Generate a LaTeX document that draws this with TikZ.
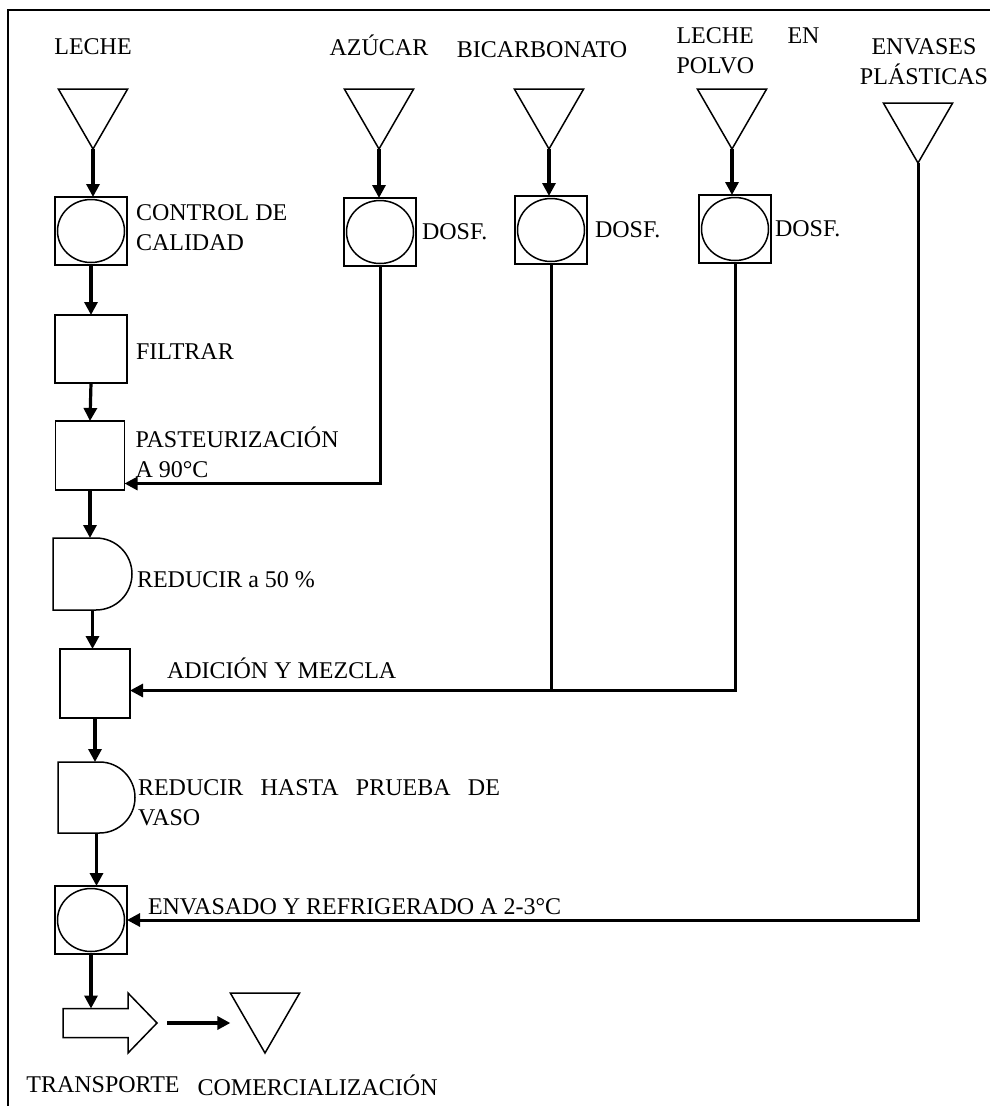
\documentclass[tikz,border=0pt]{standalone}
\usepackage{fontspec}
\setmainfont{Liberation Serif}
\usetikzlibrary{positioning,arrows.meta,shapes.geometric}

\begin{document}
\begin{tikzpicture}[x=1pt, y=1pt,
  lbl/.style={inner sep=0, outer sep=0, font=\fontsize{24}{30}\selectfont},
  tri/.style={draw, line width=1.5, regular polygon, regular polygon sides=3,
              shape border rotate=180, minimum size=80, inner sep=0, outer sep=0},
  opbox/.style={draw, line width=1.5, minimum width=72, minimum height=68,
                inner sep=0, outer sep=0},
  insp/.style={opbox, path picture={\draw[line width=1.5]
               (path picture bounding box.center) ellipse (33.5 and 31.5);}},
  delay/.style={minimum width=79, minimum height=72, inner sep=0, outer sep=0},
  arr/.style={-{Triangle[length=13pt, width=13pt]}, line width=3.2},
  feed/.style={line width=3}]
\useasboundingbox (0,0) rectangle (990,-1106);
\draw[line width=2] (8,-1106) -- (8,-10) -- (990,-10);

% raw materials
\node[tri] (lecheT) at (93,-109) {};
\node[tri] (azT) at (379,-109) {};
\node[tri] (biT) at (549,-109) {};
\node[tri] (poT) at (732,-109) {};
\node[tri] (enT) at (918,-123) {};
\node[lbl, above=34pt of lecheT] {LECHE};
\node[lbl, above=33pt of azT] {AZÚCAR};
\node[lbl, above=31pt of biT, xshift=-7pt] {BICARBONATO};
\node[lbl, above=15pt of poT, xshift=16pt, text width=143pt, align=left] {LECHE\hfill EN\\POLVO};
\node[lbl, above=18pt of enT, xshift=6pt, align=center] {ENVASES\\PLÁSTICAS};

% process
\node[insp] (ctrl) at (91,-231) {};
\node[insp] (azD) at (380,-232) {};
\node[insp] (biD) at (551,-230) {};
\node[insp] (poD) at (735,-229) {};
\node[opbox] (filt) at (91,-349) {};
\node[opbox, minimum width=69, minimum height=69] (past) at (90,-455.5) {};
\node[delay] (red1) at (92.5,-574) {};
\node[opbox, minimum width=70, minimum height=69] (adic) at (95,-683.5) {};
\node[delay, minimum width=77, minimum height=71] (red2) at (96.5,-797.5) {};
\node[insp] (env) at (91,-920) {};
\node[minimum width=94, minimum height=60, inner sep=0, outer sep=0] (trans) at (110,-1023) {};
\node[tri] (comT) at (265,-1013) {};
\coordinate (transTop) at ([yshift=14.5pt]trans.center);
\coordinate (mix) at ([yshift=-7pt]adic.east);

\draw[line width=1.5] (red1.north west) -- ++(43,0) arc[start angle=90, end angle=-90, radius=36]
  -- (red1.south west) -- cycle;
\draw[line width=1.5] (red2.north west) -- ++(41.5,0) arc[start angle=90, end angle=-90, radius=35.5]
  -- (red2.south west) -- cycle;
\draw[line width=1.5] (trans.west) ++(0,14.5) -- ++(65,0) -- ++(0,15.5) -- (trans.east)
  -- ++(-29,-30) -- ++(0,15.5) -- ++(-65,0) -- cycle;

\node[lbl, align=left, right=9pt of ctrl, yshift=3pt] {CONTROL DE\\CALIDAD};
\node[lbl, right=6pt of azD] {DOSF.};
\node[lbl, right=8pt of biD] {DOSF.};
\node[lbl, right=4pt of poD] {DOSF.};
\node[lbl, right=9pt of filt, yshift=-3pt] {FILTRAR};
\node[lbl, align=left, right=11pt of past, yshift=3pt] {PASTEURIZACIÓN\\A 90°C};
\node[lbl, right=5pt of red1, yshift=-6pt] {REDUCIR a 50 \%};
\node[lbl, right=37pt of adic, yshift=15pt] {ADICIÓN Y MEZCLA};
\node[lbl, right=3pt of red2, yshift=-5pt, text width=362pt, align=left]
  {REDUCIR\hfill HASTA\hfill PRUEBA\hfill DE\\VASO};
\node[lbl, right=21pt of env, yshift=13pt] {ENVASADO Y REFRIGERADO A 2-3°C};
\node[lbl, below=24pt of trans, xshift=-7pt] (transL) {TRANSPORTE};
\node[lbl, right=18pt of transL] {COMERCIALIZACIÓN};

% connectors
\draw[arr] (lecheT.south) -- (lecheT.south |- ctrl.north);
\draw[arr] (azT.south) -- (azT.south |- azD.north);
\draw[arr] (biT.south) -- (biT.south |- biD.north);
\draw[arr] (poT.south) -- (poT.south |- poD.north);
\draw[arr] (ctrl.south) -- (filt.north);
\draw[arr] (filt.south) -- (past.north);
\draw[arr] (past.south) -- (past.south |- red1.north);
\draw[arr] (red1.south) -- (red1.south |- adic.north);
\draw[arr] (adic.south) -- (adic.south |- red2.north);
\draw[arr] (red2.south) -- (red2.south |- env.north);
\draw[arr] (env.south) -- (env.south |- transTop);
\draw[arr] ([xshift=10pt]trans.east) -- (trans.east -| comT.corner 3);
\draw[arr, line width=3] (azD.south) |- ([yshift=-28pt]past.east);
\draw[feed] (biD.south) -- (biD.south |- mix);
\draw[arr, line width=3] (poD.south) |- (mix);
\draw[arr, line width=3] (enT.south) |- (env.east);
\end{tikzpicture}
\end{document}
